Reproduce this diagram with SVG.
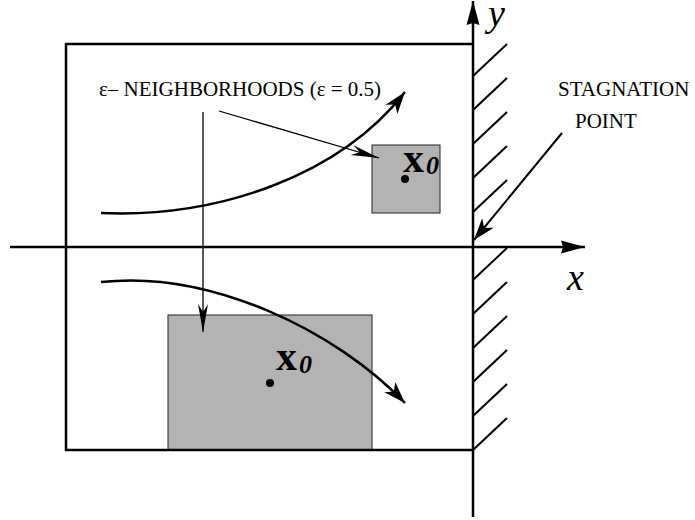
<svg xmlns="http://www.w3.org/2000/svg" width="695" height="520" viewBox="0 0 695 520">
<style>
.thick{fill:none;stroke:#000;stroke-width:2.5}
.thin{fill:none;stroke:#000;stroke-width:1.3}
.hatch{stroke:#000;stroke-width:2}
.region{fill:#b3b3b3;stroke:#222;stroke-width:1}
.lbl{font-family:"Liberation Serif","Times New Roman",serif;font-size:21px;fill:#000}
.xb{font-family:"Liberation Serif","Times New Roman",serif;font-weight:bold;font-size:42px;fill:#000}
.sub{font-family:"Liberation Serif","Times New Roman",serif;font-style:italic;font-weight:bold;font-size:26px;fill:#000}
.ax{font-family:"Liberation Serif","Times New Roman",serif;font-style:italic;font-size:38px;fill:#000}
</style>
<defs>
<marker id="big" markerUnits="userSpaceOnUse" viewBox="-24 -9 26 18" refX="0" refY="0" markerWidth="26" markerHeight="18" orient="auto">
<path d="M0,0 L-22,-7.5 L-16,0 L-22,7.5 Z" fill="#000"/>
</marker>
<marker id="axis" markerUnits="userSpaceOnUse" viewBox="-26 -9 28 18" refX="0" refY="0" markerWidth="28" markerHeight="18" orient="auto">
<path d="M0,0 L-24,-6.5 L-22,0 L-24,6.5 Z" fill="#000"/>
</marker>
<marker id="small" markerUnits="userSpaceOnUse" viewBox="-32 -7 34 14" refX="0" refY="0" markerWidth="34" markerHeight="14" orient="auto">
<path d="M0,0 L-28,-5 L-20,0 L-28,5 Z" fill="#000"/>
</marker>
</defs>
<rect width="695" height="520" fill="#fff"/>
<g id="region-upper">
<rect class="region" x="372" y="145" width="68" height="68"/>
<circle cx="405" cy="179" r="4" fill="#000"/>
<text class="xb" x="403" y="172">x</text>
<text class="sub" x="426" y="174">0</text>
</g>
<g id="region-lower">
<rect class="region" x="168" y="315" width="204" height="135"/>
<circle cx="270" cy="383" r="4" fill="#000"/>
<text class="xb" x="276" y="370">x</text>
<text class="sub" x="299" y="373">0</text>
</g>
<g id="domain">
<polyline class="thick" points="473,44 66,44 66,450 473,450"/>
</g>
<g id="wall">
<g class="hatch">
<line x1="507" y1="44" x2="473" y2="76"/>
<line x1="507" y1="78" x2="473" y2="110"/>
<line x1="507" y1="112" x2="473" y2="144"/>
<line x1="507" y1="146" x2="473" y2="178"/>
<line x1="507" y1="180" x2="473" y2="212"/>
<line x1="507" y1="248" x2="473" y2="280"/>
<line x1="507" y1="282" x2="473" y2="314"/>
<line x1="507" y1="316" x2="473" y2="348"/>
<line x1="507" y1="350" x2="473" y2="382"/>
<line x1="507" y1="384" x2="473" y2="416"/>
<line x1="507" y1="418" x2="473" y2="450"/>
</g>
</g>
<g id="axes">
<line class="thick" x1="10" y1="247" x2="585" y2="247" marker-end="url(#axis)"/>
<line class="thick" x1="473" y1="517" x2="473" y2="1" marker-end="url(#axis)"/>
<text class="ax" x="488" y="26">y</text>
<text class="ax" x="567" y="290">x</text>
</g>
<g id="labels">
<text class="lbl" x="99" y="96">ε– NEIGHBORHOODS (ε = 0.5)</text>
<text class="lbl" x="558" y="96">STAGNATION</text>
<text class="lbl" x="575" y="128">POINT</text>
</g>
<g id="connectors">
<path class="thick" d="M101,213 C220,218 340,175 405,92" marker-end="url(#big)"/>
<path class="thick" d="M101,282 C210,270 335,330 405,403" marker-end="url(#big)"/>
<line class="thin" x1="203" y1="112" x2="203" y2="332" marker-end="url(#small)"/>
<line class="thin" x1="219" y1="111" x2="379" y2="158" marker-end="url(#small)"/>
<line class="thin" style="stroke-width:2" x1="562" y1="133" x2="474" y2="240" marker-end="url(#big)"/>
</g>
</svg>
